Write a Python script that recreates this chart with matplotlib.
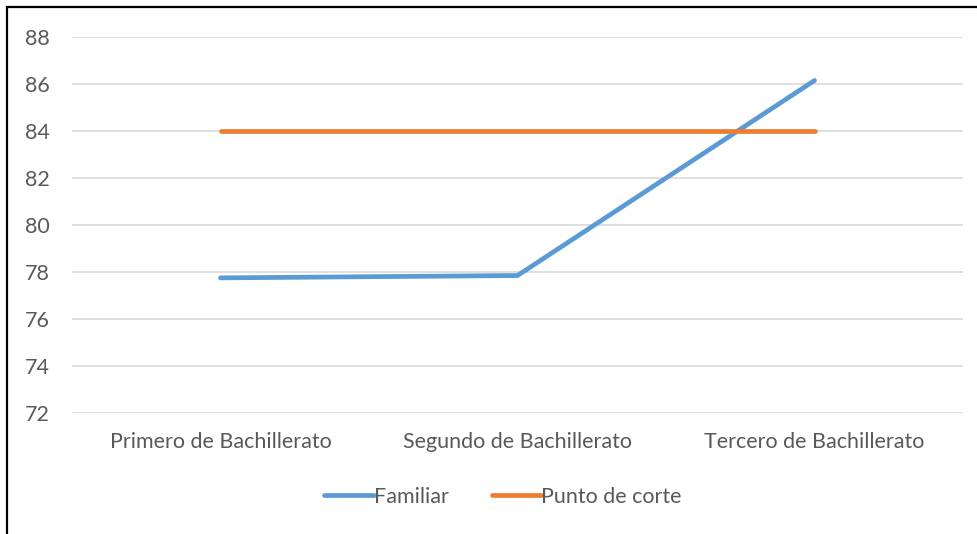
import matplotlib.pyplot as plt
from matplotlib.patches import Rectangle

categorias = ["Primero de Bachillerato", "Segundo de Bachillerato", "Tercero de Bachillerato"]
familiar = [77.75, 77.85, 86.15]
punto_corte = [84, 84, 84]

plt.rcParams['font.family'] = ['Lato', 'DejaVu Sans']

fig = plt.figure(figsize=(9.77, 5.34), dpi=100)
ax = fig.add_axes([0.0737, 0.2266, 0.912, 0.7041])

x = range(len(categorias))
ax.plot(x, familiar, color="#5B9BD5", lw=3.4, solid_capstyle="round", label="Familiar")
ax.plot(x, punto_corte, color="#ED7D31", lw=3.4, solid_capstyle="round", label="Punto de corte")

ax.set_xlim(-0.5, 2.5)
ax.set_ylim(72, 88)
ax.set_yticks(range(72, 89, 2))
ax.set_xticks(list(x))
ax.set_xticklabels(categorias)
ax.grid(axis="y", color="#D9D9D9", lw=1.2)
ax.set_axisbelow(True)
for s in ax.spines.values():
    s.set_visible(False)
ax.tick_params(length=0, labelsize=15.5, colors="#595959")
ax.tick_params(axis="x", pad=14)
ax.tick_params(axis="y", pad=16)

fig.legend(loc="center", bbox_to_anchor=(0.515, 0.07), ncol=2, frameon=False,
           fontsize=15.5, labelcolor="#595959", handlelength=2.3, handletextpad=0.0,
           columnspacing=2.0)

# black frame around the chart (right and bottom edges are cut off)
fig.patches.append(Rectangle((7 / 977, -0.1), 1.2, 1 - 7 / 534 + 0.1, transform=fig.transFigure,
                             fill=False, edgecolor="black", lw=1.6))

fig.savefig("out.png", dpi=100)
